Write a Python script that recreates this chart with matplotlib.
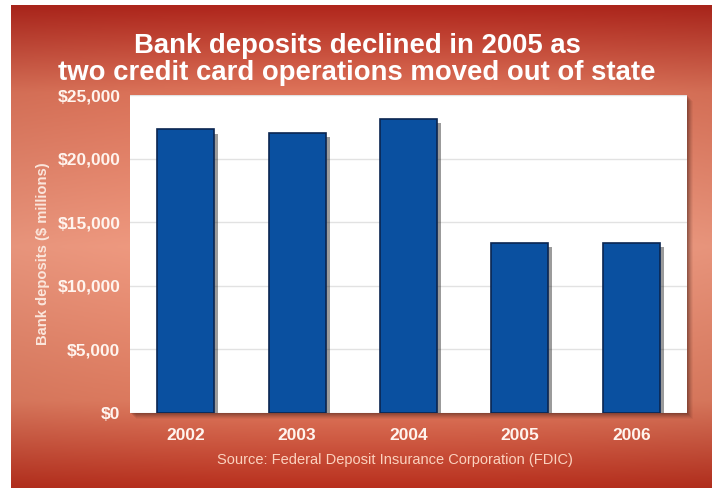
import numpy as np
import matplotlib.pyplot as plt
import matplotlib.patheffects as pe
from matplotlib.colors import to_rgb
from matplotlib.patches import Rectangle
from matplotlib.ticker import FuncFormatter

plt.rcParams['font.family'] = ['Liberation Sans', 'DejaVu Sans']

years = ['2002', '2003', '2004', '2005', '2006']
deposits = [22300, 22050, 23100, 13350, 13400]  # $ millions
y_ticks = [0, 5000, 10000, 15000, 20000, 25000]

W, H = 714, 488
fig = plt.figure(figsize=(W / 100, H / 100), dpi=100)
fig.patch.set_facecolor('white')

# red panel behind everything, darker at top and bottom
bg = fig.add_axes([11 / W, 0, (712 - 11) / W, (H - 5) / H])
bg.set_axis_off()
bg.set_zorder(0)
stops = [0.0, 0.18, 0.5, 0.82, 1.0]
cols = np.array([to_rgb(c) for c in ['#b0261c', '#de745a', '#f39c82', '#e07c60', '#b9301e']])
ty = np.linspace(0, 1, 400)
prof = np.stack([np.interp(ty, stops, cols[:, k]) for k in range(3)], axis=1)
tx = np.linspace(-1, 1, 300)
side = 1 - 0.05 * tx ** 2
grad = np.clip(prof[:, None, :] * side[None, :, None], 0, 1)
bg.imshow(grad, aspect='auto', extent=[0, 1, 0, 1], origin='upper')
bg.set_xlim(0, 1)
bg.set_ylim(0, 1)

# plot area geometry in pixels
x0, x1, yb, yt = 130, 687, 413, 95
ax_rect = [x0 / W, (H - yb) / H, (x1 - x0) / W, (yb - yt) / H]

# soft drop shadow of the white plot area, drawn inside the background axes
for i, a in zip(range(6, 0, -1), [0.05, 0.07, 0.09, 0.11, 0.13, 0.15]):
    bg.add_patch(Rectangle((ax_rect[0] + i / W, ax_rect[1] - i / H),
                           ax_rect[2], ax_rect[3], transform=fig.transFigure,
                           facecolor='#3a1a14', alpha=a, edgecolor='none', zorder=2))

ax = fig.add_axes(ax_rect)
ax.set_zorder(2)
ax.set_facecolor('white')
x = np.arange(len(years))
bars = ax.bar(x, deposits, width=0.51, color='#0a50a0', edgecolor='#0a2550', linewidth=1.2, zorder=3)
for b in bars:
    b.set_path_effects([pe.SimplePatchShadow(offset=(3, -3), shadow_rgbFace='#222222', alpha=0.45),
                        pe.Normal()])

ax.set_xlim(-0.5, len(years) - 0.5)
ax.set_ylim(0, 25000)
ax.set_yticks(y_ticks)
ax.yaxis.set_major_formatter(FuncFormatter(lambda v, p: '${:,.0f}'.format(v)))
ax.set_xticks(x)
ax.set_xticklabels(years)
ax.grid(axis='y', color='#e2e2e2', linewidth=1, zorder=0)
for s in ax.spines.values():
    s.set_visible(False)
ax.tick_params(length=0, colors='#fff4ee', labelsize=12.5)
ax.tick_params(axis='y', pad=7)
ax.tick_params(axis='x', pad=11)
for lab in ax.get_xticklabels() + ax.get_yticklabels():
    lab.set_fontweight('bold')

fig.text(43 / W, 1 - 254 / H, 'Bank deposits ($ millions)', rotation=90, color='#fbe6dc',
         fontsize=10.6, fontweight='bold', ha='center', va='center')

fig.text(357 / W, 1 - 59.5 / H, 'Bank deposits declined in 2005 as\ntwo credit card operations moved out of state',
         color='white', fontsize=19.8, fontweight='bold', ha='center', va='center', linespacing=1.05)

fig.text(395 / W, 1 - 460 / H, 'Source: Federal Deposit Insurance Corporation (FDIC)',
         color='#fbd2bf', fontsize=10.5, ha='center', va='center')

fig.savefig('out.png', dpi=100)
